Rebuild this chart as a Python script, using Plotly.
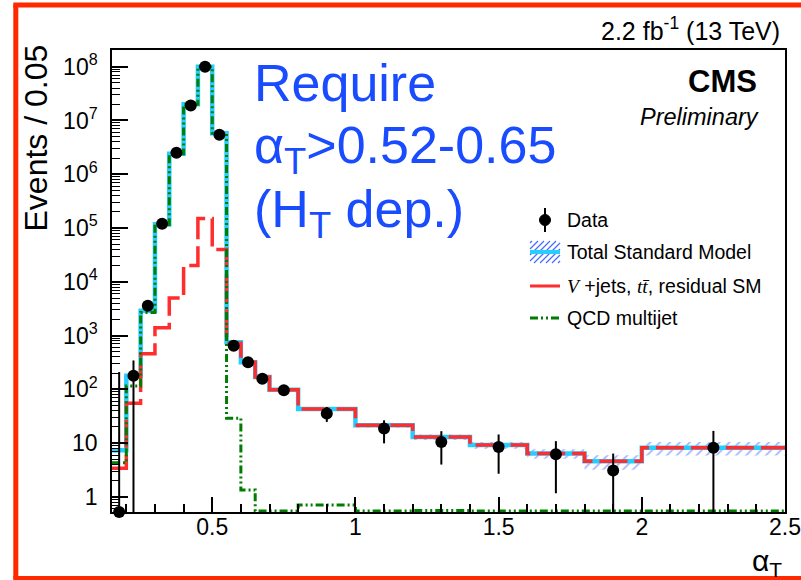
import plotly.graph_objects as go

# ---------------- data ----------------
bin_edges = [0.15, 0.2, 0.25, 0.3, 0.35, 0.4, 0.45, 0.5, 0.55, 0.6, 0.65, 0.7,
             0.8, 1.0, 1.2, 1.4, 1.6, 1.8, 2.0, 2.5]
total_sm = [7.4, 180, 2900, 1.17e5, 2.4e6, 2.0e7, 1.0e8, 5.8e6, 750, 320, 170, 98,
            43, 21.5, 13, 9.2, 6.4, 4.6, 8.2]
ewk_sm = [3.4, 55, 460, 1400, 5000, 2.0e4, 1.5e5, 4.0e4, 720, 318, 170, 98,
          43, 21.5, 13, 9.2, 6.4, 4.6, 8.2]
qcd_multijet = [4.3, 115, 2700, 1.15e5, 2.4e6, 2.0e7, 1.0e8, 5.8e6, 29, 1.35, 0.55, 0.55,
                0.71, 0.55, 0.56, 0.55, 0.55, 0.55, 0.55]
band_frac = [0.1, 0.05, 0.03, 0.02, 0.02, 0.02, 0.02, 0.02, 0.03, 0.04, 0.05, 0.06,
             0.08, 0.1, 0.12, 0.14, 0.2, 0.3, 0.28]

data_x = [0.175, 0.225, 0.275, 0.325, 0.375, 0.425, 0.475, 0.525, 0.575, 0.625, 0.675,
          0.75, 0.9, 1.1, 1.3, 1.5, 1.7, 1.9, 2.25]
data_y = [0.525, 180, 3600, 1.2e5, 2.5e6, 1.9e7, 1.0e8, 5.4e6, 650, 320, 158,
          96, 35.5, 18.7, 10.5, 8.5, 6.2, 3.1, 8.2]
data_hi = [210, 345, 3700, 1.2e5, 2.5e6, 1.9e7, 1.0e8, 5.4e6, 680, 340, 170,
           106, 47, 26.6, 16.7, 14.5, 10.9, 6.4, 16.9]
data_lo = [0.525, 0.525, 3500, 1.2e5, 2.5e6, 1.9e7, 1.0e8, 5.4e6, 620, 300, 146,
           86, 24.8, 9.9, 4.0, 2.7, 1.17, 0.525, 0.525]

x_tick_vals = [0.5, 1, 1.5, 2, 2.5]
x_tick_text = ["0.5", "1", "1.5", "2", "2.5"]
y_tick_vals = [1, 10, 1e2, 1e3, 1e4, 1e5, 1e6, 1e7, 1e8]
y_tick_text = ["1", "10", "10<sup>2</sup>", "10<sup>3</sup>", "10<sup>4</sup>",
               "10<sup>5</sup>", "10<sup>6</sup>", "10<sup>7</sup>", "10<sup>8</sup>"]

# ---------------- geometry helpers (pixels -> paper) ----------------
# figure is drawn slightly larger than the 801x580 window so its edge lies off-screen
W, H = 830, 600
L, R, T, B = 112, 785, 50, 512


def px(X):
    return (X - L) / (R - L)


def py(Y):
    return (B - Y) / (B - T)


FONT = "Liberation Sans"
CYAN = "rgb(40,205,255)"
RED = "rgb(255,45,45)"
GREEN = "rgb(0,125,0)"
HATCH = "rgb(70,110,255)"
GDASH = "8px,3px,2px,3px,2px,3px"
RDASH = "28px,7px"


def steps(vals):
    return list(vals) + [vals[-1]]


fig = go.Figure()

# uncertainty band (hatched)
bx, bu, bl = [], [], []
for i in range(len(total_sm)):
    bx += [bin_edges[i], bin_edges[i + 1]]
    bu += [total_sm[i] * (1 + band_frac[i])] * 2
    bl += [total_sm[i] * (1 - band_frac[i])] * 2
fig.add_trace(go.Scatter(
    x=bx + bx[::-1], y=bu + bl[::-1], fill="toself", mode="lines",
    line=dict(width=0), fillcolor="rgba(0,0,0,0)",
    fillpattern=dict(shape="/", fgcolor=HATCH, bgcolor="rgba(0,0,0,0)",
                     size=7, solidity=0.25),
    showlegend=False, hoverinfo="skip"))

fig.add_trace(go.Scatter(x=bin_edges, y=steps(total_sm), mode="lines",
                         line=dict(shape="hv", color=CYAN, width=4.5),
                         showlegend=False))
fig.add_trace(go.Scatter(x=bin_edges, y=steps(ewk_sm), mode="lines",
                         line=dict(shape="hv", color=RED, width=3.5, dash=RDASH),
                         showlegend=False))
fig.add_trace(go.Scatter(x=bin_edges, y=steps(qcd_multijet), mode="lines",
                         line=dict(shape="hv", color=GREEN, width=3, dash=GDASH),
                         showlegend=False))

fig.add_trace(go.Scatter(
    x=data_x, y=data_y, mode="markers", cliponaxis=False,
    marker=dict(color="black", size=12),
    error_y=dict(type="data", symmetric=False,
                 array=[h - y for h, y in zip(data_hi, data_y)],
                 arrayminus=[y - l for y, l in zip(data_y, data_lo)],
                 color="black", thickness=2, width=0),
    showlegend=False))

# ---------------- axes ----------------
x_minor = [round(0.2 + 0.1 * k, 2) for k in range(23) if round(0.2 + 0.1 * k, 2) not in x_tick_vals]
y_minor = [m * 10 ** e for e in range(-1, 9) for m in range(2, 10) if 0.525 < m * 10 ** e < 2.04e8]
y_minor = sorted(set(y_minor + [0.6, 0.7, 0.8, 0.9]))

fig.update_xaxes(range=[0.15, 2.5], tickvals=x_tick_vals, ticktext=x_tick_text,
                 ticks="inside", ticklen=15, tickwidth=1.5, tickcolor="black",
                 showline=True, linecolor="black", linewidth=1.5, mirror=True,
                 showgrid=False, zeroline=False, automargin=False, ticklabelstandoff=-6,
                 tickfont=dict(family=FONT, size=23, color="black"),
                 minor=dict(tickvals=x_minor, ticks="inside", ticklen=8,
                            tickwidth=1.5, tickcolor="black", showgrid=False))
fig.update_yaxes(type="log", range=[-0.28, 8.31], tickvals=y_tick_vals, ticktext=y_tick_text,
                 ticks="inside", ticklen=16, tickwidth=1.5, tickcolor="black",
                 showline=True, linecolor="black", linewidth=1.5, mirror=True,
                 showgrid=False, zeroline=False, ticklabelstandoff=8, automargin=False,
                 tickfont=dict(family=FONT, size=23, color="black"),
                 minor=dict(tickvals=y_minor, ticks="inside", ticklen=8,
                            tickwidth=1.2, tickcolor="black", showgrid=False))

# ---------------- text ----------------
ann = []
blue = "rgb(25,75,255)"
BIG = 52
ann.append(dict(x=px(252), y=py(83), xanchor="left", yanchor="middle",
                text="Require", font=dict(family=FONT, size=BIG, color=blue)))
ann.append(dict(x=px(252), y=py(149), xanchor="left", yanchor="middle",
                text="α<sub>T</sub>&gt;0.52-0.65", font=dict(family=FONT, size=BIG, color=blue)))
ann.append(dict(x=px(252), y=py(213), xanchor="left", yanchor="middle",
                text="(H<sub>T</sub> dep.)", font=dict(family=FONT, size=BIG, color=blue)))
ann.append(dict(x=px(759), y=py(81), xanchor="right", yanchor="middle",
                text="<b>CMS</b>", font=dict(family=FONT, size=31, color="black")))
ann.append(dict(x=px(761), y=py(117), xanchor="right", yanchor="middle",
                text="<i>Preliminary</i>", font=dict(family=FONT, size=23.5, color="black")))
ann.append(dict(x=px(782), y=py(29), xanchor="right", yanchor="middle",
                text="2.2 fb<sup>-1</sup> (13 TeV)", font=dict(family=FONT, size=25, color="black")))
ann.append(dict(x=px(35), y=py(138.5), xanchor="center", yanchor="middle", textangle=-90,
                text="Events / 0.05", font=dict(family=FONT, size=32, color="black")))
ann.append(dict(x=px(784), y=py(562), xanchor="right", yanchor="middle",
                text="α<sub>T</sub>", font=dict(family=FONT, size=30, color="black")))

# legend texts
rows = [220, 252, 286, 318]
leg_text = ["Data", "Total Standard Model",
            "<span style='font-family:Liberation Serif'><i>V</i></span> +jets, "
            "<span style='font-family:Liberation Serif'><i>tt\u0304</i></span>, residual SM",
            "QCD multijet"]
for r_, t_ in zip(rows, leg_text):
    ann.append(dict(x=px(565), y=py(r_), xanchor="left", yanchor="middle", text=t_,
                    font=dict(family=FONT, size=19.5, color="black")))
for a in ann:
    a.update(xref="paper", yref="paper", showarrow=False)

# legend symbols + frame
shapes = []
shapes.append(dict(type="line", x0=px(545), x1=px(545), y0=py(208), y1=py(232),
                   line=dict(color="black", width=2)))
shapes.append(dict(type="circle", x0=px(539.5), x1=px(550.5), y0=py(225.5), y1=py(214.5),
                   fillcolor="black", line=dict(color="black", width=1)))
bx0, bx1, byt, byb = 530, 560, 241, 263
bw, bh = bx1 - bx0, byb - byt
c = -bh + 2
while c < bw:
    w0 = max(0, -c)
    w1 = min(bh, bw - c)
    shapes.append(dict(type="line", x0=px(bx0 + w0 + c), y0=py(byb - w0),
                       x1=px(bx0 + w1 + c), y1=py(byb - w1),
                       line=dict(color=HATCH, width=1.3)))
    c += 6
shapes.append(dict(type="line", x0=px(530), x1=px(560), y0=py(252), y1=py(252),
                   line=dict(color=CYAN, width=4)))
shapes.append(dict(type="line", x0=px(530), x1=px(560), y0=py(286), y1=py(286),
                   line=dict(color=RED, width=3)))
shapes.append(dict(type="line", x0=px(530), x1=px(560), y0=py(318), y1=py(318),
                   line=dict(color=GREEN, width=3, dash=GDASH)))
# outer red frame (left, top, bottom edges; right edge lies outside the picture)
FR = dict(color="rgb(255,40,0)", width=5)
shapes.append(dict(type="line", x0=px(15.8), x1=px(15.8), y0=py(5), y1=py(578.5), line=FR))
shapes.append(dict(type="line", x0=px(13.3), x1=px(815), y0=py(5), y1=py(5), line=FR))
shapes.append(dict(type="line", x0=px(13.3), x1=px(815), y0=py(578.5), y1=py(578.5), line=FR))
for s in shapes:
    s.update(xref="paper", yref="paper")

fig.update_layout(width=W, height=H, margin=dict(l=L, r=W - R, t=T, b=H - B, autoexpand=False),
                  paper_bgcolor="white", plot_bgcolor="white",
                  annotations=ann, shapes=shapes, showlegend=False)

fig.write_html("out.html", config={"displayModeBar": False},
               post_script="document.body.style.margin='0';document.body.style.overflow='hidden';")
